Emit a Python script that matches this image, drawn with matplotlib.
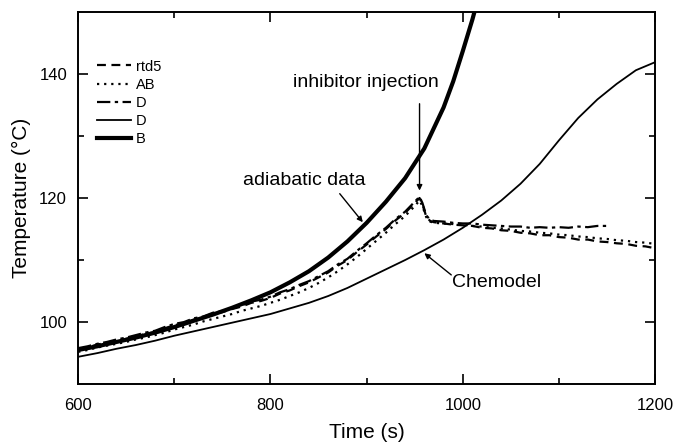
import numpy as np
import matplotlib
matplotlib.use("Agg")
import matplotlib.pyplot as plt

t_data = [600, 610, 620, 630, 640, 650, 660, 670, 680, 690,
          700, 710, 720, 730, 740, 750, 760, 770, 780, 790,
          800, 810, 820, 830, 840, 850, 860, 870, 880, 890,
          900, 910, 920, 930, 940, 950, 955, 958, 962, 966,
          970, 980, 990, 1000, 1010, 1020, 1030, 1040, 1050, 1060,
          1070, 1080, 1090, 1100, 1110, 1120, 1130, 1140, 1150, 1160,
          1170, 1180, 1190, 1200]

rtd5 = [95.6, 95.9, 96.4, 96.6, 97.0, 97.3, 97.7, 98.1, 98.4, 99.0,
        99.5, 99.8, 100.4, 100.7, 101.3, 101.6, 102.1, 102.5, 103.1, 103.4,
        103.9, 104.6, 105.1, 105.8, 106.4, 107.2, 108.0, 109.1, 110.0, 111.3,
        112.5, 113.8, 115.0, 116.4, 117.6, 119.2, 120.0, 119.0, 117.0, 116.3,
        116.1, 115.9, 115.7, 115.6, 115.5, 115.2, 115.1, 114.8, 114.7, 114.4,
        114.3, 114.0, 114.0, 113.7, 113.6, 113.3, 113.3, 113.0, 112.9, 112.7,
        112.6, 112.3, 112.2, 111.9]

ab = [95.2, 95.5, 95.9, 96.2, 96.5, 96.8, 97.2, 97.5, 97.9, 98.3,
      98.8, 99.2, 99.6, 100.1, 100.5, 100.9, 101.3, 101.8, 102.2, 102.6,
      103.1, 103.6, 104.2, 104.8, 105.5, 106.3, 107.2, 108.2, 109.3, 110.5,
      111.8, 113.1, 114.4, 115.8, 117.1, 118.7, 119.6, 118.7, 116.9, 116.2,
      116.0, 115.9, 115.8, 115.7, 115.5, 115.4, 115.2, 115.1, 114.9, 114.7,
      114.6, 114.4, 114.3, 114.1, 114.0, 113.8, 113.7, 113.5, 113.4, 113.2,
      113.1, 112.9, 112.8, 112.6]

d_data = [95.8, 96.1, 96.5, 96.8, 97.2, 97.5, 97.9, 98.3, 98.6, 99.2,
          99.7, 100.0, 100.6, 100.9, 101.5, 101.8, 102.3, 102.7, 103.3, 103.6,
          104.1, 104.8, 105.3, 106.0, 106.6, 107.4, 108.2, 109.3, 110.2, 111.5,
          112.7, 114.0, 115.2, 116.6, 117.8, 119.4, 120.2, 119.2, 117.2, 116.5,
          116.3, 116.2, 116.0, 115.9, 115.9, 115.7, 115.6, 115.5, 115.4, 115.4,
          115.2, 115.3, 115.2, 115.3, 115.2, 115.4, 115.3, 115.5, 115.5]

# model curves
t_model = [600, 620, 640, 660, 680, 700, 720, 740, 760, 780,
           800, 820, 840, 860, 880, 900, 920, 940, 960, 980,
           1000, 1020, 1040, 1060, 1080, 1100, 1120, 1140, 1160, 1180, 1200]
chemodel = [94.4, 95.0, 95.7, 96.3, 97.0, 97.8, 98.5, 99.2, 99.9, 100.6,
            101.3, 102.2, 103.1, 104.2, 105.5, 107.0, 108.5, 110.0, 111.6, 113.3,
            115.2, 117.3, 119.6, 122.3, 125.5, 129.3, 132.9, 135.9, 138.4, 140.6, 141.9]

t_adia = [600, 620, 640, 660, 680, 700, 720, 740, 760, 780,
          800, 820, 840, 860, 880, 900, 920, 940, 960, 980,
          990, 1000, 1010, 1020]
adiabatic = [95.5, 96.1, 96.8, 97.5, 98.3, 99.2, 100.2, 101.2, 102.3, 103.5,
             104.8, 106.4, 108.2, 110.4, 113.0, 116.0, 119.4, 123.2, 128.0, 134.6,
             138.8, 143.7, 148.8, 154.5]

plt.rcParams['font.family'] = ['Liberation Sans', 'DejaVu Sans']

fig = plt.figure(figsize=(6.74, 4.42), dpi=100)
ax = fig.add_axes([0.116, 0.131, 0.856, 0.842])

ax.plot(t_data, rtd5, color='k', lw=1.6, ls=(0, (4, 2.5)), label='rtd5')
ax.plot(t_data, ab, color='k', lw=1.6, ls=(0, (1, 2.2)), label='AB')
ax.plot(t_data[:len(d_data)], d_data, color='k', lw=1.6, ls=(0, (6, 2, 1.5, 2)), label='D')
ax.plot(t_model, chemodel, color='k', lw=1.3, label='D')
ax.plot(t_adia, adiabatic, color='k', lw=3.0, label='B')

ax.set_xlim(600, 1200)
ax.set_ylim(90, 150)
ax.set_xticks([600, 800, 1000, 1200])
ax.set_xticks([700, 900, 1100], minor=True)
ax.set_yticks([100, 120, 140])
ax.set_yticks([110, 130], minor=True)
ax.tick_params(which='both', direction='in', top=True, right=True, width=1.2, labelsize=12)
ax.tick_params(which='major', length=7, pad=8)
ax.tick_params(axis='x', which='major', pad=10)
ax.tick_params(which='minor', length=4)
for s in ax.spines.values():
    s.set_linewidth(1.4)

ax.set_xlabel('Time (s)', fontsize=15, labelpad=7)
ax.set_ylabel('Temperature (°C)', fontsize=15, labelpad=6)

leg = ax.legend(loc='upper left', bbox_to_anchor=(0.033, 0.872), frameon=False,
                fontsize=10.5, handlelength=2.3, handletextpad=0.35,
                labelspacing=0.28, borderpad=0, borderaxespad=0)

# annotations
ax.text(899, 138.6, 'inhibitor injection', ha='center', va='center', fontsize=14)
ax.annotate('', xy=(955, 121.2), xytext=(955, 135.2),
            arrowprops=dict(arrowstyle='-|>', color='k', lw=1.0,
                            shrinkA=0, shrinkB=0, mutation_scale=8))
ax.text(835, 122.8, 'adiabatic data', ha='center', va='center', fontsize=14)
ax.annotate('', xy=(896, 116.1), xytext=(872, 120.7),
            arrowprops=dict(arrowstyle='-|>', color='k', lw=1.0,
                            shrinkA=0, shrinkB=0, mutation_scale=8))
ax.text(989, 106.4, 'Chemodel', ha='left', va='center', fontsize=14)
ax.annotate('', xy=(960, 111.1), xytext=(988, 107.6),
            arrowprops=dict(arrowstyle='-|>', color='k', lw=1.0,
                            shrinkA=0, shrinkB=0, mutation_scale=8))

fig.savefig('out.png', dpi=100)
